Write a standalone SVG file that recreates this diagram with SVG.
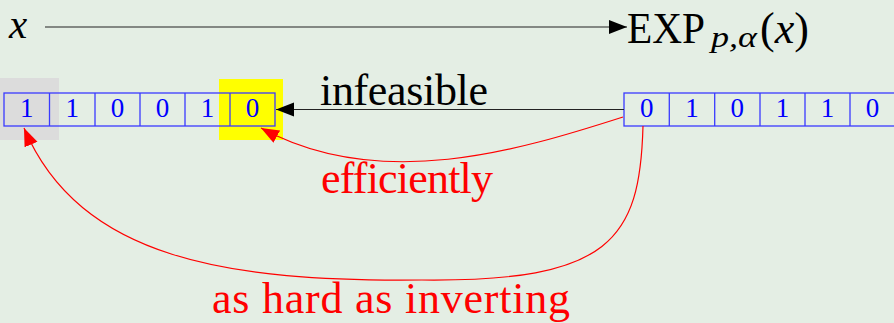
<svg xmlns="http://www.w3.org/2000/svg" width="894" height="323" viewBox="0 0 894 323">
<style>
text{font-family:'Liberation Serif','DejaVu Serif','Noto Serif','Times New Roman',serif;}
.big{font-size:44px;}
.red{fill:#ff0000;}
.cell{fill:none;stroke:#3a3aff;stroke-width:1.3;}
.dig{font-size:27px;fill:#0000ff;text-anchor:middle;}
.conn{fill:none;stroke-width:1.2;}
</style>
<defs>
<marker id="ab" markerUnits="userSpaceOnUse" markerWidth="20" markerHeight="16" refX="18" refY="7" orient="auto">
<path d="M0,0 L18,7 L0,14 Z" fill="#000"/>
</marker>
<marker id="ar" markerUnits="userSpaceOnUse" markerWidth="20" markerHeight="16" refX="18" refY="7" orient="auto">
<path d="M0,0 L18,7 L0,14 Z" fill="#ff0000"/>
</marker>
</defs>
<rect x="0" y="0" width="894" height="323" fill="#e4eee4"/>

<g id="top-x">
<text x="9" y="38" font-size="41" font-style="italic">x</text>
</g>
<g id="top-exp">
<text class="big" x="627" y="43" textLength="78" lengthAdjust="spacingAndGlyphs">EXP</text>
<text x="711" y="47" font-size="30" font-style="italic" textLength="46" lengthAdjust="spacingAndGlyphs">p,α</text>
<text class="big" x="760" y="43">(<tspan font-style="italic">x</tspan>)</text>
</g>

<g id="left-bits">
<rect x="0" y="78" width="59" height="62" fill="#dcdcdc"/>
<rect x="219" y="79" width="64" height="61" fill="#ffff00"/>
<rect class="cell" x="4" y="93" width="271" height="33"/>
<path class="cell" d="M49.5,93V126M95,93V126M140,93V126M185,93V126M230,93V126"/>
<text class="dig" x="26.7" y="117">1</text>
<text class="dig" x="72.2" y="117">1</text>
<text class="dig" x="117.5" y="117">0</text>
<text class="dig" x="162.5" y="117">0</text>
<text class="dig" x="207.5" y="117">1</text>
<text class="dig" x="252.5" y="117">0</text>
</g>

<g id="right-bits">
<rect class="cell" x="624" y="93" width="274" height="33"/>
<path class="cell" d="M669.3,93V126M714.7,93V126M760,93V126M805,93V126M850,93V126"/>
<text class="dig" x="646.7" y="117">0</text>
<text class="dig" x="692" y="117">1</text>
<text class="dig" x="737.3" y="117">0</text>
<text class="dig" x="782.5" y="117">1</text>
<text class="dig" x="827.5" y="117">1</text>
<text class="dig" x="872.5" y="117">0</text>
</g>

<g id="connectors">
<line class="conn" x1="45" y1="27" x2="627" y2="27" stroke="#222" marker-end="url(#ab)"/>
<line class="conn" x1="624" y1="109.5" x2="276" y2="109.5" stroke="#222" marker-end="url(#ab)"/>
<path class="conn" stroke="#ff0000" d="M623,117 C520,150 380,193 261,128" marker-end="url(#ar)"/>
<path class="conn" stroke="#ff0000" d="M643,126 C640,240 610,282 422,280 C230,282 80,260 24,128" marker-end="url(#ar)"/>
</g>

<g id="labels">
<text class="big" x="320" y="105" fill="#000" textLength="168">infeasible</text>
<text class="big red" x="321" y="193" textLength="172">efficiently</text>
<text class="big red" x="212" y="313" textLength="358">as hard as inverting</text>
</g>
</svg>
